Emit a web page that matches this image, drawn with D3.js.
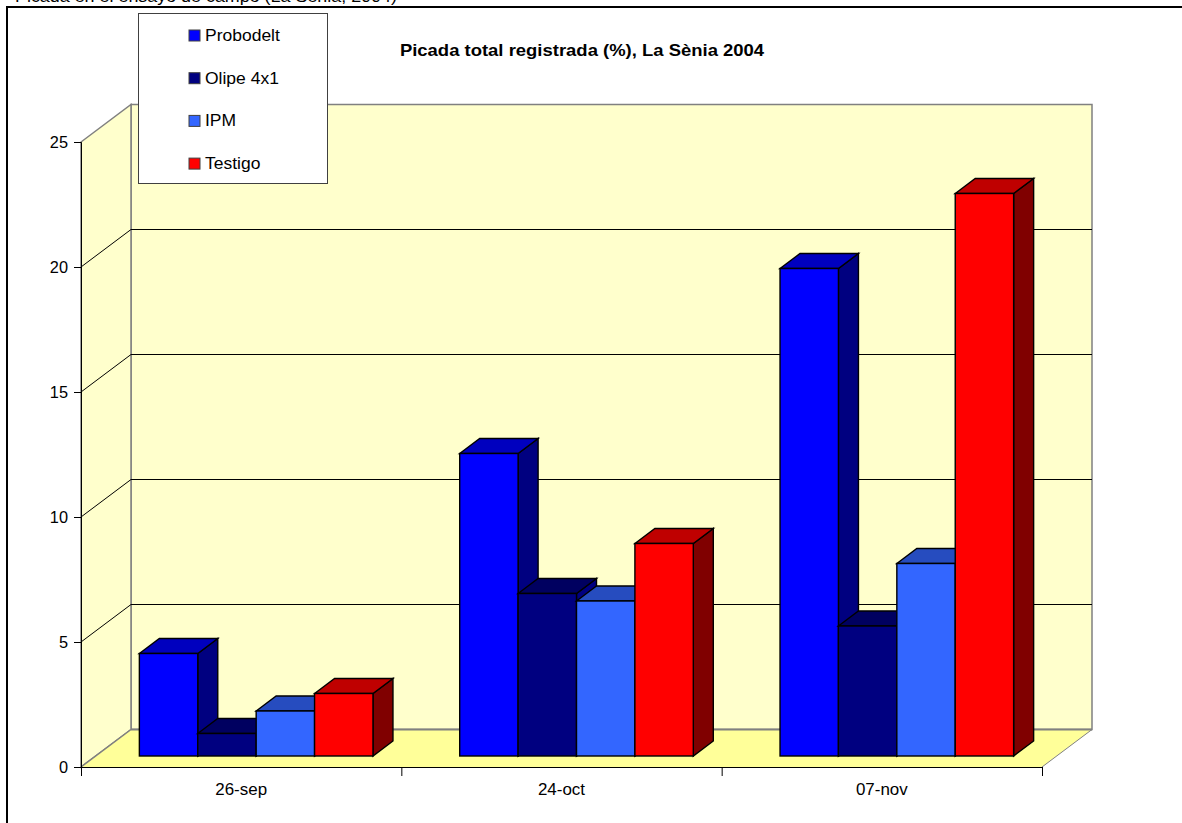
<!DOCTYPE html>
<html><head><meta charset="utf-8">
<style>html,body{margin:0;padding:0;background:#fff;overflow:hidden}svg{display:block}text{font-family:"Liberation Sans",Arial,sans-serif;fill:#000}</style>
<script src="https://cdn.jsdelivr.net/npm/d3@7"></script></head>
<body><script>
const categories = ["26-sep","24-oct","07-nov"];
const seriesNames = ["Probodelt","Olipe 4x1","IPM","Testigo"];
const probodelt = [4.1,12.1,19.5];
const olipe = [0.9,6.5,5.2];
const ipm = [1.8,6.2,7.7];
const testigo = [2.5,8.5,22.5];
const seriesValues = [probodelt,olipe,ipm,testigo];
const faceColors = ["#0000ff","#000080","#3366ff","#ff0000"];
const topColors = ["#0000bf","#000060","#264cbf","#bf0000"];
const sideColors = ["#000080","#000080","#1a3380","#800000"];
const yTicks = [0,5,10,15,20,25];
const title = "Picada total registrada (%), La Sènia 2004";
const caption = "Picada en el ensayo de campo (La Sènia, 2004)";

const W=1182,H=823;
const svg=d3.select("body").append("svg").attr("width",W).attr("height",H);
const x0=d3.scaleBand().domain(categories).range([81,1042]);
const y=d3.scaleLinear().domain([0,25]).range([767,142]);
const DX=50,DY=-37.5;        // full floor depth
const bdx=20,bdy=-15;        // bar depth
const offX=15,offY=-11;      // bar plane position inside the floor
const bw=58.4;
const poly=(pts)=>pts.map(p=>p.join(",")).join(" ");
// the reference's text is slightly wider than it is tall
function wide(sel,xp,yp,sx,size,anchor){
  return sel.attr("transform",`translate(${xp},${yp}) scale(${sx},1)`).attr("x",0).attr("y",0)
    .attr("dy",null).attr("text-anchor",anchor).style("font-size",size+"px");
}

// clipped caption above the chart frame
wide(svg.append("text").text(caption),15,2,1.085,16.5,"start");

// frame
svg.append("rect").attr("x",7).attr("y",7).attr("width",W+20).attr("height",H+20).attr("fill","#fff").attr("stroke","#000").attr("stroke-width",2);

const x1=81,x2=1042,yb=y(0),yt=y(25);
// back wall, side wall, floor
svg.append("polygon").attr("points",poly([[x1+DX,yt+DY],[x2+DX,yt+DY],[x2+DX,yb+DY],[x1+DX,yb+DY]])).attr("fill","#ffffcc").attr("stroke","#808080").attr("stroke-width",1.5);
svg.append("polygon").attr("points",poly([[x1,yt],[x1+DX,yt+DY],[x1+DX,yb+DY],[x1,yb]])).attr("fill","#ffffcc").attr("stroke","#808080").attr("stroke-width",1.5);
svg.append("polygon").attr("points",poly([[x1,yb],[x1+DX,yb+DY],[x2+DX,yb+DY],[x2,yb]])).attr("fill","#ffff99").attr("stroke","none");
svg.append("line").attr("x1",x1).attr("y1",yb).attr("x2",x1+DX).attr("y2",yb+DY).attr("stroke","#808080").attr("stroke-width",1.5);
svg.append("line").attr("x1",x2).attr("y1",yb).attr("x2",x2+DX).attr("y2",yb+DY).attr("stroke","#808080").attr("stroke-width",1);
svg.append("line").attr("x1",x1+DX).attr("y1",yb+DY).attr("x2",x2+DX).attr("y2",yb+DY).attr("stroke","#808080").attr("stroke-width",2);

// gridlines
yTicks.filter(t=>t>0&&t<25).forEach(t=>{
  const p=y(t);
  svg.append("polyline").attr("points",poly([[x1,p],[x1+DX,p+DY],[x2+DX,p+DY]])).attr("fill","none").attr("stroke","#000").attr("stroke-width",1);
});

// axes
const axL=svg.append("g").attr("transform",`translate(${x1},0)`).call(d3.axisLeft(y).tickValues(yTicks).tickSize(7).tickPadding(3).tickFormat(d3.format("d")));
axL.select(".domain").attr("stroke","#000");
axL.selectAll(".tick text").each(function(){ wide(d3.select(this),-13,5.5,1.02,16,"end"); });
const edges=[...categories.map(c=>x0(c)),x2];
svg.append("line").attr("x1",x1).attr("x2",x2).attr("y1",yb+.5).attr("y2",yb+.5).attr("stroke","#000").attr("stroke-width",1);
const axB=svg.append("g").attr("transform",`translate(0,${yb})`).call(d3.axisBottom(x0).tickSize(0).tickPadding(17));
axB.select(".domain").remove();
axB.selectAll(".tick text").each(function(){ wide(d3.select(this),0,28,1.06,16,"middle"); });
svg.append("g").selectAll("line").data(edges).join("line").attr("x1",d=>d+.5).attr("x2",d=>d+.5).attr("y1",yb).attr("y2",yb+9).attr("stroke","#000");

// bars
const g=svg.append("g").attr("stroke","#000").attr("stroke-width",1.4).attr("stroke-linejoin","miter");
categories.forEach((c,ci)=>{
  const left=x0(c)+x0.bandwidth()/2+offX-2*bw;
  seriesValues.forEach((vals,si)=>{
    const v=vals[ci];
    const a=left+si*bw,b=a+bw;
    const base=y(0)+offY, top=y(v)+offY;
    g.append("polygon").attr("points",poly([[b,top],[b+bdx,top+bdy],[b+bdx,base+bdy],[b,base]])).attr("fill",sideColors[si]);
    g.append("polygon").attr("points",poly([[a,top],[a+bdx,top+bdy],[b+bdx,top+bdy],[b,top]])).attr("fill",topColors[si]);
    g.append("rect").attr("x",a).attr("y",top).attr("width",bw).attr("height",base-top).attr("fill",faceColors[si]);
  });
});

// title
wide(svg.append("text").text(title),582,56,1.12,16.5,"middle").style("font-weight","bold");

// legend
svg.append("rect").attr("x",138.5).attr("y",13.5).attr("width",189).attr("height",170).attr("fill","#fff").attr("stroke","#404040").attr("stroke-width",1);
seriesNames.forEach((n,i)=>{
  const cy=35.5+i*42.7;
  svg.append("rect").attr("x",189).attr("y",cy-5.5).attr("width",11).attr("height",11).attr("fill",faceColors[i]).attr("stroke","#404040").attr("stroke-width",1);
  wide(svg.append("text").text(n),205,cy+5.5,1.06,16.5,"start");
});
</script></body></html>
